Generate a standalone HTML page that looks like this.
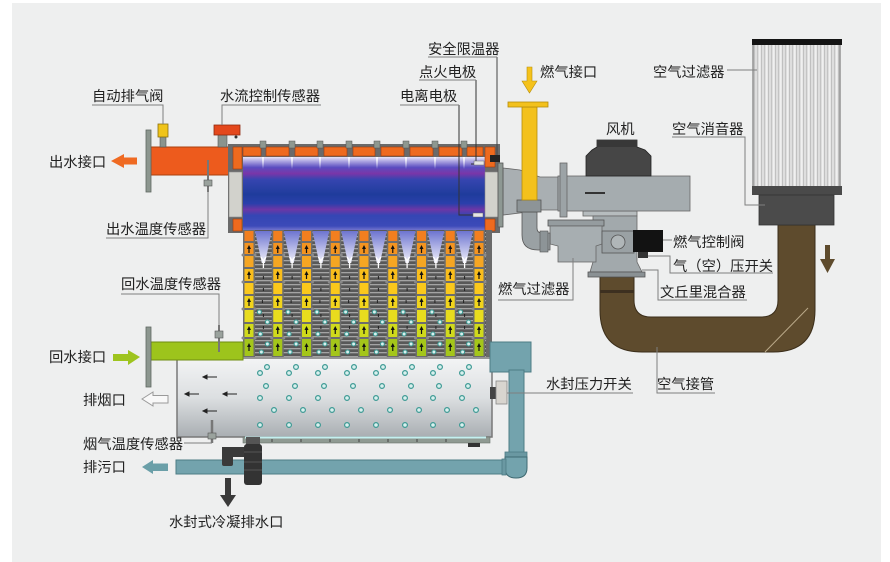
<!DOCTYPE html>
<html><head><meta charset="utf-8"><style>
html,body{margin:0;padding:0;background:#fff;}
svg{display:block;}
text{font-family:"Liberation Sans","Noto Sans CJK SC",sans-serif;font-size:14.3px;fill:#222;}
</style></head><body>
<svg width="890" height="562" viewBox="0 0 890 562" xmlns="http://www.w3.org/2000/svg">
<defs>
<linearGradient id="chamber" x1="0" y1="0" x2="0" y2="1">
<stop offset="0" stop-color="#e8e4f6"/><stop offset="0.06" stop-color="#a9a1e0"/>
<stop offset="0.14" stop-color="#5a4cc0"/><stop offset="0.22" stop-color="#7a36a8"/>
<stop offset="0.30" stop-color="#3645b0"/><stop offset="0.50" stop-color="#1f3c9c"/>
<stop offset="0.62" stop-color="#2a3fab"/><stop offset="0.70" stop-color="#6c37a6"/>
<stop offset="0.78" stop-color="#3446b4"/><stop offset="0.92" stop-color="#3c4ab8"/>
<stop offset="1" stop-color="#8c88d6"/></linearGradient>
<linearGradient id="vgr" x1="0" y1="0" x2="0" y2="1">
<stop offset="0" stop-color="#6d74d0"/><stop offset="1" stop-color="#f2f2fb"/></linearGradient>
<linearGradient id="silver" x1="0" y1="0" x2="0" y2="1">
<stop offset="0" stop-color="#f3f4f5"/><stop offset="0.5" stop-color="#dcdfe1"/><stop offset="1" stop-color="#a9aeb2"/></linearGradient>
<linearGradient id="streak" x1="0" y1="0" x2="0" y2="1">
<stop offset="0" stop-color="#ffffff" stop-opacity="0.9"/><stop offset="1" stop-color="#ffffff" stop-opacity="0"/></linearGradient>
<pattern id="fin" width="6" height="4" patternUnits="userSpaceOnUse">
<rect width="6" height="4" fill="#585858"/><rect width="6" height="1.3" fill="#a4a4a4"/></pattern>
<pattern id="filt" width="7" height="10" patternUnits="userSpaceOnUse">
<rect width="7" height="10" fill="#dedede"/><rect x="1" width="1" height="10" fill="#c4c4c4"/><rect x="3" width="1.5" height="10" fill="#f0f0f0"/><rect x="5" width="0.8" height="10" fill="#b8b8b8"/></pattern>
<g id="col">
<rect x="-6" y="230" width="12" height="127" fill="#6d6d6d"/>
<rect x="-4.5" y="231" width="9" height="10" fill="#f27f1f"/>
<rect x="-4.5" y="243" width="9" height="11" fill="#f39420"/>
<rect x="-4.5" y="256" width="9" height="11" fill="#f5a623"/>
<rect x="-4.5" y="269" width="9" height="12" fill="#f9bd1b"/>
<rect x="-4.5" y="283" width="9" height="11" fill="#fac81c"/>
<rect x="-4.5" y="296" width="9" height="12" fill="#f1d41c"/>
<rect x="-4.5" y="310" width="9" height="12" fill="#e8dc1e"/>
<rect x="-4.5" y="324" width="9" height="13" fill="#d0da1c"/>
<rect x="-4.5" y="339" width="9" height="17" fill="#a4c61a"/>
<path d="M0,245 L-2,249 L-0.6,249 L-0.6,253 L0.6,253 L0.6,249 L2,249 Z M0,271 L-2,275 L-0.6,275 L-0.6,279 L0.6,279 L0.6,275 L2,275 Z M0,298 L-2,302 L-0.6,302 L-0.6,306 L0.6,306 L0.6,302 L2,302 Z M0,326 L-2,330 L-0.6,330 L-0.6,334 L0.6,334 L0.6,330 L2,330 Z M0,343 L-2,347 L-0.6,347 L-0.6,351 L0.6,351 L0.6,347 L2,347 Z" fill="#111"/>
<circle cx="-6" cy="255" r="1.5" fill="#8a8a8a"/><circle cx="6" cy="255" r="1.5" fill="#8a8a8a"/>
<circle cx="-6" cy="282" r="1.5" fill="#8a8a8a"/><circle cx="6" cy="282" r="1.5" fill="#8a8a8a"/>
<circle cx="-6" cy="309" r="1.5" fill="#8a8a8a"/><circle cx="6" cy="309" r="1.5" fill="#8a8a8a"/>
<circle cx="-6" cy="338" r="1.5" fill="#8a8a8a"/><circle cx="6" cy="338" r="1.5" fill="#8a8a8a"/>
</g>
<g id="vg"><polygon points="-8.4,231 8.4,231 1.6,263 -1.6,263" fill="url(#vgr)"/>
<path d="M0,260 L0,268 M-2.5,257 L0,261 L2.5,257" stroke="#fff" stroke-width="1.3" fill="none"/>
<path d="M0,276 v3 M0,288 v3 M-1,300 v3 M0,314 v3 M0,326 v3" stroke="#222" stroke-width="1"/></g>
<g id="gd" fill="#d9f0ee" stroke="#3d9a94" stroke-width="1.1">
<circle cx="-4" cy="312" r="2"/><circle cx="4" cy="322" r="2"/><circle cx="-3" cy="334" r="2"/><circle cx="4" cy="344" r="2"/><circle cx="-2" cy="352" r="2"/></g>
<g id="rowA" fill="#d9f0ee" stroke="#3d9a94" stroke-width="1.2">
<circle cx="260" cy="0" r="2.4"/><circle cx="289" cy="0" r="2.4"/><circle cx="318" cy="0" r="2.4"/><circle cx="347" cy="0" r="2.4"/><circle cx="376" cy="0" r="2.4"/><circle cx="405" cy="0" r="2.4"/><circle cx="433" cy="0" r="2.4"/><circle cx="462" cy="0" r="2.4"/></g>
</defs>

<rect x="12" y="3" width="869" height="559" fill="#eeefef"/>

<!-- brown air pipe -->
<path d="M600,277 L634,277 L634,300 Q634,317 651,317 L761,317 Q778,317 778,300 L778,225 L815,225 L815,310 Q815,352 773,352 L642,352 Q600,352 600,310 Z" fill="#5e4b2d" stroke="#3b2e1a" stroke-width="1"/>
<rect x="600" y="290" width="34" height="3" fill="#3d3020"/>
<line x1="765" y1="352" x2="808" y2="308" stroke="#b9a888" stroke-width="1"/>

<!-- air filter -->
<rect x="753" y="44" width="87" height="143" fill="url(#filt)" stroke="#666" stroke-width="1"/>
<rect x="752" y="39" width="90" height="6" fill="#141414"/>
<rect x="752" y="186" width="90" height="9" fill="#4a4a4a"/>
<rect x="759" y="195" width="75" height="30" fill="#4b4b4b" stroke="#333" stroke-width="0.8"/>

<!-- outlet pipe -->
<rect x="151" y="147" width="79" height="28" fill="#ed5b1d" stroke="#a9400f" stroke-width="1"/>
<rect x="146" y="130" width="5" height="62" fill="#8c968f" stroke="#5f6862" stroke-width="0.8"/>
<rect x="160" y="137" width="6" height="10" fill="#8a948e" stroke="#555" stroke-width="0.6"/>
<rect x="158" y="124" width="10" height="13" fill="#f0c419" stroke="#8a7010" stroke-width="0.8"/>
<rect x="218" y="135" width="9" height="12" fill="#8a948e" stroke="#555" stroke-width="0.6"/>
<rect x="214" y="125" width="26" height="10" fill="#e4481c" stroke="#902a10" stroke-width="0.8"/>
<circle cx="236" cy="137" r="1.5" fill="#333"/>
<line x1="208" y1="160" x2="208" y2="192" stroke="#777" stroke-width="2"/>
<rect x="204" y="180" width="8" height="6" fill="#9aa29d" stroke="#555" stroke-width="0.6"/>

<!-- boiler drum -->
<rect x="228" y="144" width="272" height="89" fill="#6a6a6a"/>
<rect x="243" y="157" width="242" height="75" fill="url(#chamber)"/>
<g fill="#ee6a1e" stroke="#9a3a10" stroke-width="0.6">
<rect x="243" y="147" width="18" height="9"/><rect x="266" y="147" width="23" height="9"/><rect x="295" y="147" width="23" height="9"/>
<rect x="324" y="147" width="23" height="9"/><rect x="353" y="147" width="22" height="9"/><rect x="381" y="147" width="23" height="9"/>
<rect x="410" y="147" width="23" height="9"/><rect x="439" y="147" width="23" height="9"/><rect x="467" y="147" width="16" height="9"/>
<rect x="233" y="147" width="9" height="22"/><rect x="233" y="219" width="9" height="12"/>
<rect x="485" y="147" width="10" height="20"/><rect x="485" y="219" width="10" height="12"/></g>
<rect x="229" y="172" width="13" height="45" fill="#d2d2cc" stroke="#888" stroke-width="0.6"/>
<rect x="485" y="172" width="13" height="45" fill="#d2d2cc" stroke="#888" stroke-width="0.6"/>
<g fill="#8e9890" stroke="#555" stroke-width="0.5">
<rect x="260" y="141" width="6" height="7"/><rect x="289" y="141" width="6" height="7"/><rect x="317" y="141" width="6" height="7"/>
<rect x="346" y="141" width="6" height="7"/><rect x="374" y="141" width="6" height="7"/><rect x="403" y="141" width="6" height="7"/>
<rect x="432" y="141" width="6" height="7"/><rect x="461" y="141" width="6" height="7"/></g>
<g fill="url(#streak)">
<rect x="262" y="157" width="2" height="12"/><rect x="291" y="157" width="2" height="12"/><rect x="319" y="157" width="2" height="12"/>
<rect x="348" y="157" width="2" height="12"/><rect x="376" y="157" width="2" height="12"/><rect x="405" y="157" width="2" height="12"/>
<rect x="434" y="157" width="2" height="12"/><rect x="463" y="157" width="2" height="12"/></g>
<!-- electrodes -->
<path d="M459,105 L459,215 L473,215" stroke="#333" stroke-width="1" fill="none"/>
<rect x="473" y="213" width="10" height="4" fill="#e6e6e6" stroke="#666" stroke-width="0.5"/>
<path d="M476,80 L476,164 L471,164" stroke="#333" stroke-width="1" fill="none"/>
<rect x="474" y="161" width="10" height="4" fill="#e6e6e6" stroke="#666" stroke-width="0.5"/>
<line x1="497" y1="57" x2="497" y2="156" stroke="#444" stroke-width="1"/>
<rect x="490" y="155" width="10" height="7" fill="#222"/>

<!-- tube bank -->
<rect x="243" y="230" width="249" height="127" fill="url(#fin)"/>
<rect x="486" y="230" width="6" height="127" fill="#6a6a6a"/>
<use href="#vg" x="263.4"/><use href="#vg" x="292.1"/><use href="#vg" x="320.9"/><use href="#vg" x="349.6"/>
<use href="#vg" x="378.4"/><use href="#vg" x="407.1"/><use href="#vg" x="435.9"/><use href="#vg" x="464.6"/>
<use href="#col" x="249"/><use href="#col" x="277.75"/><use href="#col" x="306.5"/><use href="#col" x="335.25"/>
<use href="#col" x="364"/><use href="#col" x="392.75"/><use href="#col" x="421.5"/><use href="#col" x="450.25"/><use href="#col" x="479"/>
<use href="#gd" x="263.4"/><use href="#gd" x="292.1"/><use href="#gd" x="320.9"/><use href="#gd" x="349.6"/>
<use href="#gd" x="378.4"/><use href="#gd" x="407.1"/><use href="#gd" x="435.9"/><use href="#gd" x="464.6"/>

<!-- condensing box -->
<rect x="177" y="358" width="315" height="79" fill="url(#silver)" stroke="#787878" stroke-width="1.5"/>
<rect x="243" y="437" width="247" height="6" fill="#8f9a92" stroke="#6b746d" stroke-width="0.6"/>
<line x1="245" y1="437.5" x2="486" y2="437.5" stroke="#c4f0f0" stroke-width="2"/>
<path d="M272,439 v3 M301,439 v3 M330,439 v3 M359,439 v3 M388,439 v3 M417,439 v3 M446,439 v3" stroke="#444" stroke-width="1"/>
<rect x="468" y="443" width="12" height="4" fill="#333"/>
<use href="#rowA" x="7" y="367"/><use href="#rowA" x="0" y="373"/><use href="#rowA" x="6" y="386"/>
<use href="#rowA" x="0" y="398"/><use href="#rowA" x="14" y="410"/><use href="#rowA" x="0" y="425"/>
<g stroke="#222" stroke-width="1" fill="#222">
<line x1="206" y1="377" x2="217" y2="377"/><path d="M203,377 l4,-2 v4 z"/>
<line x1="188" y1="394" x2="199" y2="394"/><path d="M185,394 l4,-2 v4 z"/>
<line x1="226" y1="394" x2="237" y2="394"/><path d="M223,394 l4,-2 v4 z"/>
<line x1="206" y1="411" x2="217" y2="411"/><path d="M203,411 l4,-2 v4 z"/></g>
<line x1="212" y1="420" x2="212" y2="443" stroke="#777" stroke-width="2.5"/>
<rect x="208" y="433" width="8" height="6" fill="#9aa29d" stroke="#555" stroke-width="0.6"/>

<!-- return pipe -->
<rect x="151" y="342" width="92" height="18" fill="#9dc41c" stroke="#6e8c12" stroke-width="1"/>
<rect x="146" y="327" width="5" height="60" fill="#8c968f" stroke="#5f6862" stroke-width="0.8"/>
<line x1="219" y1="325" x2="219" y2="352" stroke="#777" stroke-width="2"/>
<rect x="215" y="331" width="8" height="7" fill="#9aa29d" stroke="#555" stroke-width="0.6"/>

<!-- teal pipes -->
<rect x="490" y="342" width="41" height="30" fill="#73a3ad" stroke="#4d7c85" stroke-width="1"/>
<rect x="509" y="370" width="15" height="92" fill="#73a3ad" stroke="#4d7c85" stroke-width="1"/>
<rect x="176" y="460" width="332" height="14" fill="#73a3ad" stroke="#4d7c85" stroke-width="1"/>
<rect x="505" y="452" width="22" height="5" fill="#6a98a2" stroke="#4d7c85" stroke-width="0.8"/>
<path d="M505,457 L527,457 L527,468 Q527,478 516,478 Q505,478 505,468 Z" fill="#73a3ad" stroke="#3f6a72" stroke-width="1"/>
<rect x="502" y="459" width="4" height="16" fill="#6a98a2" stroke="#4d7c85" stroke-width="0.8"/>
<rect x="490" y="387" width="6" height="12" fill="#444"/>
<rect x="496" y="381" width="11" height="23" fill="#d8d5cf" stroke="#888" stroke-width="0.8"/>

<!-- siphon -->
<rect x="246" y="437" width="14" height="8" fill="#555"/>
<rect x="222" y="447" width="24" height="10" fill="#3a3a3a"/>
<rect x="222" y="447" width="11" height="19" rx="2" fill="#3a3a3a"/>
<rect x="244" y="444" width="18" height="41" rx="3" fill="#333"/>
<path d="M244,452 h18 M244,462 h18 M244,470 h18" stroke="#555" stroke-width="1"/>
<path d="M225,478 h6 v17 h5 l-8,12 l-8,-12 h5 z" fill="#3a3a3a"/>

<!-- mixer / burner -->
<rect x="583" y="211" width="54" height="5" fill="#b6bcbe" stroke="#666" stroke-width="0.8"/>
<path d="M593,216 L637,216 L637,262 L642,272 L590,272 L593,262 Z" fill="#a2a9ac" stroke="#666" stroke-width="0.8"/>
<rect x="588" y="272" width="57" height="5" fill="#8a9194" stroke="#555" stroke-width="0.8"/>
<polygon points="503,168 520,170 540,177 558,177 558,210 540,210 520,213 503,215" fill="#a9afb2" stroke="#666" stroke-width="0.8"/>
<rect x="498" y="163" width="5" height="64" fill="#8e9893" stroke="#555" stroke-width="0.8"/>
<rect x="558" y="176" width="132" height="35" fill="#a5acaf" stroke="#666" stroke-width="0.8"/>
<rect x="585" y="192" width="20" height="2" fill="#333"/>
<rect x="560" y="163" width="7" height="54" fill="#9ca3a6" stroke="#666" stroke-width="0.8"/>
<path d="M597,140 L637,140 L637,147 L645,150 L651,156 L651,176 L586,176 L586,156 L592,150 L597,147 Z" fill="#464646" stroke="#222" stroke-width="0.8"/>
<rect x="597" y="140" width="40" height="7" fill="#383838"/>
<rect x="548" y="220" width="56" height="6" fill="#959c9f" stroke="#555" stroke-width="0.8"/>
<path d="M550,226 L602,226 L602,244 L596,246 L596,262 L558,262 L558,246 L550,244 Z" fill="#a7aeb1" stroke="#666" stroke-width="0.8"/>
<rect x="602" y="231" width="32" height="22" fill="#9aa1a4" stroke="#555" stroke-width="0.8"/>
<circle cx="618" cy="242" r="7" fill="#b0b6b8" stroke="#555" stroke-width="0.8"/>
<rect x="633" y="230" width="30" height="22" fill="#121212"/>
<rect x="638" y="252" width="10" height="6" fill="#333"/>
<path d="M522,212 L537,212 L537,228 Q537,233 542,233 L550,233 L550,250 L538,250 Q522,250 522,235 Z" fill="#9aa1a4" stroke="#555" stroke-width="0.8"/>
<rect x="540" y="231" width="8" height="21" fill="#8d9497" stroke="#555" stroke-width="0.6"/>
<rect x="517" y="200" width="24" height="12" fill="#8d9497" stroke="#555" stroke-width="0.8"/>
<rect x="522" y="107" width="15" height="93" fill="#f3c11c" stroke="#b58c0c" stroke-width="0.8"/>
<rect x="508" y="102" width="40" height="5" fill="#f3c11c" stroke="#b58c0c" stroke-width="0.8"/>

<!-- arrows -->
<path d="M111,161 L124,154 L124,157.5 L137,157.5 L137,164.5 L124,164.5 L124,168 Z" fill="#ef6a22"/>
<path d="M140,357 L128,350 L128,354 L113,354 L113,361 L128,361 L128,365 Z" fill="#9ec41e"/>
<path d="M142,399 L153,392 L153,395.5 L168,395.5 L168,403 L153,403 L153,406 Z" fill="#f8f8f8" stroke="#9a9a9a" stroke-width="1"/>
<path d="M142,467 L153,460 L153,463.5 L168,463.5 L168,471 L153,471 L153,474 Z" fill="#6a9fa8"/>
<path d="M527,67 h5 v14 h5 l-7.5,12 l-7.5,-12 h5 z" fill="#f5c21b" stroke="#b8900e" stroke-width="0.6"/>
<path d="M825,245 h5 v14 h5 l-7.5,14 l-7.5,-14 h5 z" fill="#5e4b2d"/>

<!-- leader lines -->
<g stroke="#7f7f7f" stroke-width="1" fill="none">
<path d="M92,105 H163 V124"/>
<path d="M321,105 H222 V125"/>
<path d="M428,57 H497"/>
<path d="M419,80 H476"/>
<path d="M400,105 H459"/>
<path d="M106,238 H208 V192"/>
<path d="M121,294 H219 V325"/>
<path d="M727,70 H757"/>
<path d="M672,137 H745 V205 H765"/>
<path d="M663,240 H672"/>
<path d="M648,256 H670 V273 H773"/>
<path d="M642,270 H658 V300 H747"/>
<path d="M498,300 H573 V258"/>
<path d="M507,393 H633"/>
<path d="M715,393 H657 V347"/>
<path d="M184,443 H212"/>
</g>

<!-- labels -->
<text x="92" y="101">自动排气阀</text>
<text x="220" y="101">水流控制传感器</text>
<text x="428" y="54">安全限温器</text>
<text x="419" y="77">点火电极</text>
<text x="400" y="101">电离电极</text>
<text x="540" y="77">燃气接口</text>
<text x="653" y="77">空气过滤器</text>
<text x="606" y="134">风机</text>
<text x="672" y="134">空气消音器</text>
<text x="49" y="167">出水接口</text>
<text x="106" y="234">出水温度传感器</text>
<text x="673" y="247">燃气控制阀</text>
<text x="673" y="271">气（空）压开关</text>
<text x="121" y="289">回水温度传感器</text>
<text x="498" y="294">燃气过滤器</text>
<text x="660" y="297">文丘里混合器</text>
<text x="49" y="362">回水接口</text>
<text x="546" y="389">水封压力开关</text>
<text x="657" y="389">空气接管</text>
<text x="83" y="405">排烟口</text>
<text x="83" y="449">烟气温度传感器</text>
<text x="83" y="472">排污口</text>
<text x="169" y="527">水封式冷凝排水口</text>
</svg>
</body></html>
